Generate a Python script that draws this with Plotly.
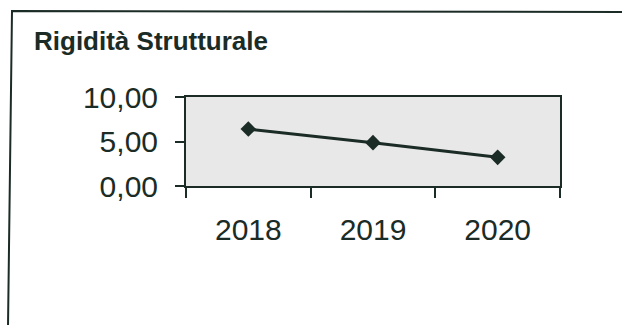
import plotly.graph_objects as go

# Data
years = ["2018", "2019", "2020"]
rigidita = [6.40, 4.87, 3.22]
y_ticks = [0, 5, 10]

W, H = 622, 325
ML, MR, MT, MB = 186, 62, 97, 139
INK = "#1b2b25"
FONT = "Liberation Sans, Arial, sans-serif"

pw, ph = W - ML - MR, H - MT - MB


def px(x, y):
    """Pixel position -> paper coordinates of the plot area."""
    return (x - ML) / pw, (H - MB - y) / ph


fig = go.Figure(
    go.Scatter(
        x=years,
        y=rigidita,
        mode="lines+markers",
        line=dict(color=INK, width=3),
        marker=dict(symbol="diamond", size=12, color=INK),
        cliponaxis=False,
    )
)

# Outer frame of the panel (left and top edges)
x0, y0 = px(12, 11)
x1, y1 = px(8, H + 2)
x2, y2 = px(W + 2, 12)
fig.add_shape(
    type="path",
    xref="paper",
    yref="paper",
    path=f"M {x1} {y1} L {x0} {y0} L {x2} {y2}",
    line=dict(color=INK, width=2),
)

fig.update_layout(
    width=W,
    height=H,
    margin=dict(l=ML, r=MR, t=MT, b=MB, pad=0),
    paper_bgcolor="white",
    plot_bgcolor="#e8e8e8",
    separators=",.",
    showlegend=False,
    font=dict(family=FONT, color=INK),
    title=dict(
        text="<b>Rigidità Strutturale</b>",
        font=dict(family=FONT, size=26, color=INK),
        x=34 / W,
        xanchor="left",
        xref="container",
        y=1 - 41 / H,
        yanchor="middle",
        yref="container",
    ),
    xaxis=dict(
        type="category",
        range=[-0.5, 2.5],
        showgrid=False,
        showline=True,
        linecolor=INK,
        linewidth=2,
        mirror=True,
        ticks="outside",
        tickson="boundaries",
        ticklen=10,
        tickwidth=2,
        tickcolor=INK,
        tickfont=dict(size=30, color=INK),
        ticklabelstandoff=16,
    ),
    yaxis=dict(
        range=[0, 10],
        tickvals=y_ticks,
        tickformat=".2f",
        showgrid=False,
        zeroline=False,
        showline=True,
        linecolor=INK,
        linewidth=2,
        mirror=True,
        ticks="outside",
        ticklen=9,
        tickwidth=2,
        tickcolor=INK,
        tickfont=dict(size=30, color=INK),
        ticklabelstandoff=11,
    ),
)

fig.write_html("out.html")
